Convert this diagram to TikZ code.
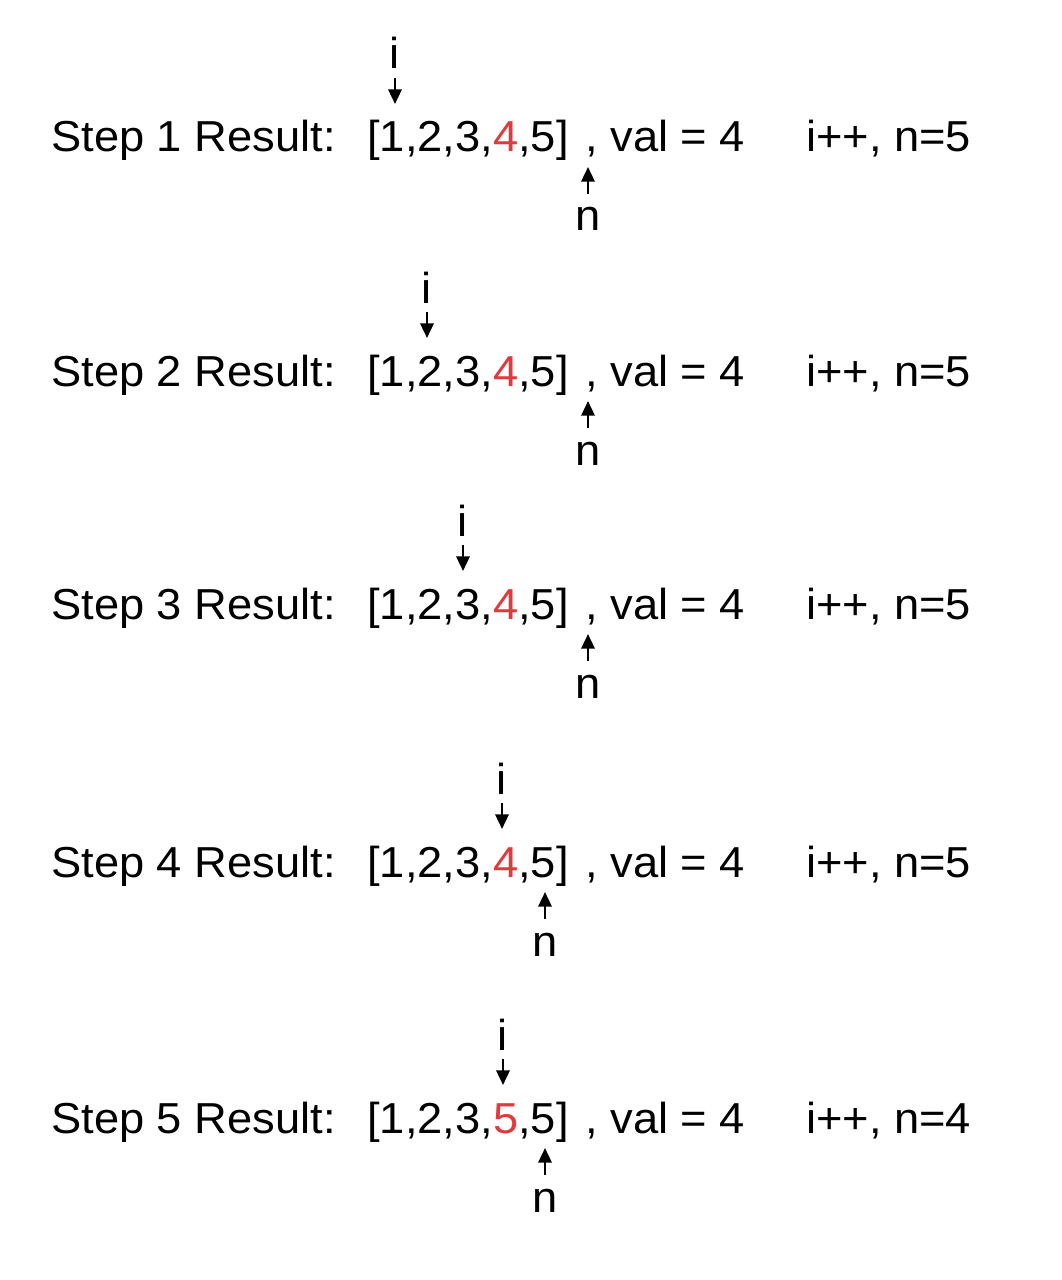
\documentclass[tikz,border=0pt]{standalone}
\usepackage{fontspec}
\setmainfont{Liberation Sans}[FakeStretch=1.045]
\usetikzlibrary{arrows.meta}
\definecolor{hl}{RGB}{224,58,62}
\begin{document}
\begin{tikzpicture}[x=0.75pt,y=-0.75pt,
  txt/.style={inner sep=0pt, anchor=base west, font=\fontsize{32.5}{39}\selectfont},
  ptr/.style={inner sep=0pt, anchor=base, font=\fontsize{32.5}{39}\selectfont},
  arr/.style={line width=1.8pt, -{Triangle[length=11pt,width=10pt]}},
]
\useasboundingbox (0,0) rectangle (1062,1280);
\foreach \k/\B/\ix/\nx/\hv/\nv in {1/152/395/588/4/5, 2/386/427/588/4/5, 3/619/463/588/4/5, 4/877/502/545/4/5, 5/1133/503/545/5/4} {
  \node[txt] (s\k) at (51,\B) {Step \k\ Result:};
  \node[txt] (a\k) at (367,\B) {[1,2,3,\textcolor{hl}{\hv},5]};
  \node[txt] (v\k) at (585,\B) {, val = 4};
  \node[txt] (o\k) at (806,\B) {i++, n=\nv};
  \node[ptr] (i\k) at (\ix,\B-83) {i};
  \coordinate (it\k) at (\ix,\B-48);
  \draw[arr, shorten <=6.75pt] (i\k.south) -- (it\k);
  \node[ptr] (n\k) at (\nx,\B+79) {n};
  \coordinate (nt\k) at (\nx,\B+15);
  \draw[arr, shorten <=10pt] (n\k.north) -- (nt\k);
}
\end{tikzpicture}
\end{document}
